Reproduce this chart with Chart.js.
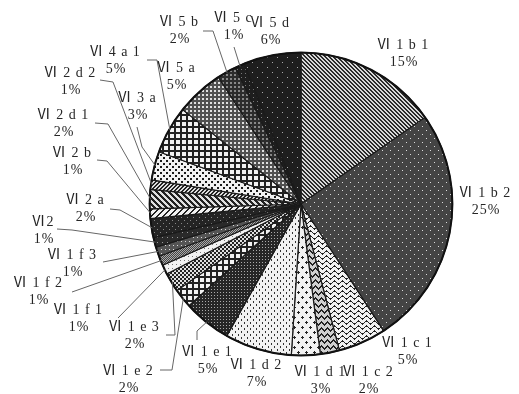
<!DOCTYPE html>
<html>
<head>
<meta charset="utf-8">
<script src="https://cdn.jsdelivr.net/npm/chart.js@4.4.0/dist/chart.umd.min.js"></script>
<style>
  body { margin: 0; background: #fff; }
  canvas { display: block; }
</style>
</head>
<body>
<canvas id="myChart" width="519" height="394"></canvas>
<script>
// categories and values, clockwise from 12 o'clock
let nombres = ['Ⅵ 1 b 1', 'Ⅵ 1 b 2', 'Ⅵ 1 c 1', 'Ⅵ 1 c 2', 'Ⅵ 1 d 1', 'Ⅵ 1 d 2',
  'Ⅵ 1 e 1', 'Ⅵ 1 e 2', 'Ⅵ 1 e 3', 'Ⅵ 1 f 1', 'Ⅵ 1 f 2', 'Ⅵ 1 f 3', 'Ⅵ2',
  'Ⅵ 2 a', 'Ⅵ 2 b', 'Ⅵ 2 d 1', 'Ⅵ 2 d 2', 'Ⅵ 3 a', 'Ⅵ 4 a 1', 'Ⅵ 5 a',
  'Ⅵ 5 b', 'Ⅵ 5 c', 'Ⅵ 5 d'];
let valores = [15, 25, 5, 2, 3, 7, 5, 2, 2, 1, 1, 1, 1, 2, 1, 2, 1, 3, 5, 5, 2, 1, 6];

// where each label sits (first line centre) and its leader line start points
let posEtiq = [[403,45],[485,193],[407,343],[368,372],[320,372],[256,365],[207,352],
  [128,371],[134,327],[78,310],[38,283],[72,255],[43,222],[85,200],[72,153],[63,115],
  [70,73],[137,98],[115,52],[176,68],[179,22],[233,18],[270,23]];
let guias = [null, null, null, null, null, null,
  [[197,340],[197,331]], [[160,370],[172,370]], [[166,335],[175,335]],
  [[118,318]], [[72,292]], [[103,262]], [[57,229],[72,230]],
  [[110,209],[120,210]], [[97,160],[107,161]], [[95,123],[108,124]],
  [[100,80],[113,82]], [[137,127],[142,147]], [[147,60],[157,60]],
  null, [[203,31],[213,31]], [[234,47]], null];

let ctx = document.getElementById('myChart').getContext('2d');

// small pixel tiles used as fills
function trama(w, h, fn){
  let c = document.createElement('canvas');
  c.width = w; c.height = h;
  let g = c.getContext('2d');
  for(let y = 0; y < h; y++){
    for(let x = 0; x < w; x++){
      g.fillStyle = fn(x, y);
      g.fillRect(x, y, 1, 1);
    }
  }
  return ctx.createPattern(c, 'repeat');
}
const N = '#222', B = '#f2f2f2';
let rellenos = [
  trama(4,4,(x,y)=> ((x-y+8)%4<2) ? '#2a2a2a' : '#d8d8d8'),                 // 1b1
  trama(8,8,(x,y)=> ((x==2&&y==2)||(x==6&&y==6)) ? '#dcdcdc' : '#444'),      // 1b2
  trama(8,5,(x,y)=> Math.abs(y-(2+1.4*Math.sin(x*Math.PI/4)))<0.8 ? N : B),  // 1c1
  trama(6,6,(x,y)=> (((x<3)?(x+y):(y-x+6))%6<2) ? N : '#d0d0d0'),           // 1c2
  trama(8,10,(x,y)=> ((Math.abs(x-2)+Math.abs(y-2)<=1)||(Math.abs(x-6)+Math.abs(y-7)<=1)) ? N : B), // 1d1
  trama(6,6,(x,y)=> ((x==1&&y<=2&&y>=1)||(x==4&&y>=4)) ? '#333' : B),        // 1d2
  trama(3,3,(x,y)=> (x==1&&y==1) ? '#aaa' : '#262626'),                      // 1e1
  trama(6,6,(x,y)=> (x<2||y<2) ? N : B),                                     // 1e2
  trama(4,4,(x,y)=> (((x>>1)+(y>>1))%2) ? N : '#e0e0e0'),                    // 1e3
  trama(4,4,(x,y)=> (x==0&&y==0) ? '#777' : B),                              // 1f1
  trama(4,4,(x,y)=> ((x+y)%2) ? '#444' : '#aaa'),                            // 1f2
  trama(4,4,(x,y)=> (x==1&&y==1) ? '#ddd' : '#555'),                         // 1f3
  trama(5,5,(x,y)=> (x==2&&y==2) ? '#999' : '#2a2a2a'),                      // 2
  trama(6,6,(x,y)=> (x==1&&y==1)||(x==4&&y==4) ? '#888' : '#242424'),        // 2a
  trama(6,6,(x,y)=> ((x+y)%6<2) ? N : B),                                    // 2b
  trama(6,6,(x,y)=> ((x-y+12)%6<3) ? N : '#e0e0e0'),                         // 2d1
  trama(4,4,(x,y)=> ((x+y)%4<2) ? N : '#dddddd'),                            // 2d2
  trama(6,6,(x,y)=> ((x>=1&&x<=2&&y>=1&&y<=2)||(x>=4&&y>=4)) ? '#1a1a1a' : B), // 3a
  trama(6,6,(x,y)=> (x<2||y<2) ? N : B),                                     // 4a1
  trama(4,4,(x,y)=> (x>=2&&y>=2) ? '#e0e0e0' : '#505050'),                   // 5a
  trama(4,4,(x,y)=> (x>=2&&y>=2) ? '#888' : '#2c2c2c'),                      // 5b
  trama(4,4,(x,y)=> (x==1&&y==1) ? '#777' : '#1e1e1e'),                      // 5c
  trama(10,10,(x,y)=> ((x==2&&y==2)||(x==7&&y==7)) ? '#aaa' : '#1e1e1e')     // 5d
];

const etiquetas = {
  id: 'etiquetas',
  afterDatasetsDraw(chart){
    let c = chart.ctx;
    let arcos = chart.getDatasetMeta(0).data;
    // thicker outer ring
    let a0 = arcos[0];
    c.save();
    c.beginPath();
    c.arc(a0.x, a0.y, a0.outerRadius, 0, Math.PI*2);
    c.lineWidth = 2;
    c.strokeStyle = '#111';
    c.stroke();
    // leader lines
    c.strokeStyle = '#666';
    c.lineWidth = 1;
    for(let i = 0; i < arcos.length; i++){
      if(!guias[i]) continue;
      let a = arcos[i];
      let m = (a.startAngle + a.endAngle) / 2;
      let r = a.outerRadius - 1;
      c.beginPath();
      c.moveTo(guias[i][0][0], guias[i][0][1]);
      for(let k = 1; k < guias[i].length; k++) c.lineTo(guias[i][k][0], guias[i][k][1]);
      c.lineTo(a.x + Math.cos(m)*r, a.y + Math.sin(m)*r);
      c.stroke();
    }
    // texts
    c.fillStyle = '#262626';
    c.font = '14px "Liberation Serif", "Noto Sans CJK JP", serif';
    c.textAlign = 'center';
    c.textBaseline = 'middle';
    c.letterSpacing = '1px';
    for(let i = 0; i < nombres.length; i++){
      let p = posEtiq[i];
      c.fillText(nombres[i], p[0], p[1]);
      c.fillText(valores[i] + '%', p[0] + 1, p[1] + 17);
    }
    c.restore();
  }
};

let chart = new Chart(ctx, {
  type: 'pie',
  data: {
    labels: nombres,
    datasets: [{
      data: valores,
      backgroundColor: rellenos,
      borderColor: '#1a1a1a',
      borderWidth: 1.2
    }]
  },
  options: {
    responsive: false,
    animation: false,
    layout: {
      padding: { left: 149, right: 66, top: 52, bottom: 38 }
    },
    plugins: {
      legend: { display: false },
      tooltip: { enabled: false }
    }
  },
  plugins: [etiquetas]
});
</script>
</body>
</html>
